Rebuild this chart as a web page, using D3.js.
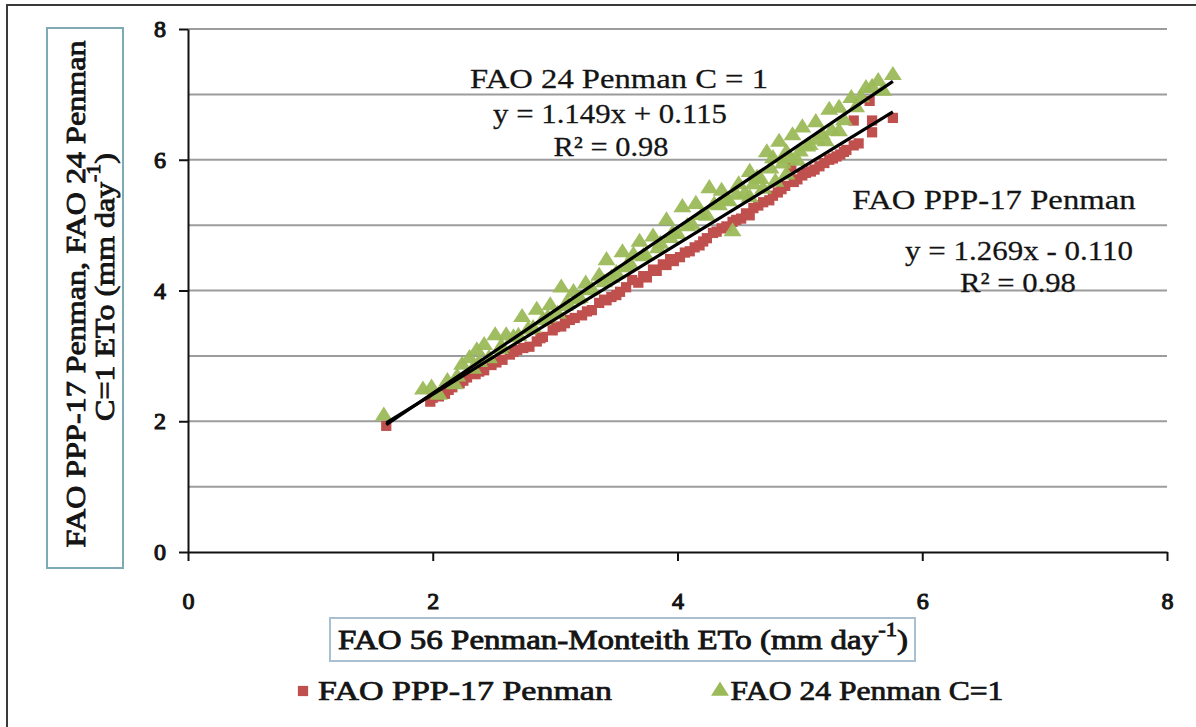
<!DOCTYPE html>
<html><head><meta charset="utf-8">
<script src="https://cdn.jsdelivr.net/npm/d3@7"></script>
<style>
body{margin:0;background:#fff}
svg{display:block}
text{font-family:"Liberation Serif",Tinos,"Times New Roman",Times,serif;fill:#141414}
</style>
</head><body>
<svg id="c" width="1196" height="727"></svg>
<script>
// ---------- DATA ----------
const xTickValues = [0, 2, 4, 6, 8];
const yTickValues = [0, 2, 4, 6, 8];
const yGridValues = [1, 2, 3, 4, 5, 6, 7, 8];
const seriesNames = ["FAO PPP-17 Penman", "FAO 24 Penman C=1"];

// FAO PPP-17 Penman (red squares)
const pppX = [1.62,1.98,2.05,2.10,2.16,2.22,2.28,2.35,2.42,2.48,2.57,2.63,2.69,2.79,2.85,2.90,2.98,3.05,3.12,3.22,3.30,3.36,3.42,3.50,3.53,3.63,3.68,3.75,3.83,3.91,3.97,4.02,4.10,4.18,4.24,4.29,4.36,4.45,4.52,4.59,4.66,4.75,4.82,4.88,4.93,4.98,5.05,5.12,5.20,5.27,5.33,5.38,5.44,5.44,5.57,5.59,5.59,5.76,
  2.00,2.13,2.25,2.38,2.52,2.66,2.74,2.88,3.00,3.08,3.16,3.26,3.40,3.46,3.58,3.72,3.80,3.88,3.94,4.06,4.14,4.21,4.32,4.40,4.48,4.56,4.62,4.70,4.78,4.85,4.95,5.02,5.09,5.16,5.24,5.30,5.36,5.48];
const pppY = [1.93,2.30,2.38,2.42,2.52,2.58,2.67,2.72,2.78,2.86,2.94,3.02,3.09,3.14,3.22,3.29,3.39,3.45,3.55,3.62,3.70,3.81,3.85,3.93,3.98,4.16,4.12,4.20,4.30,4.39,4.45,4.51,4.60,4.69,4.80,4.88,4.95,5.05,5.10,5.15,5.30,5.38,5.50,5.60,5.89,5.70,5.80,5.85,5.95,6.02,6.08,6.15,6.22,6.60,6.90,6.42,6.60,6.64,
  2.36,2.48,2.62,2.76,2.90,3.06,3.12,3.27,3.44,3.50,3.58,3.68,3.86,3.90,4.05,4.22,4.32,4.40,4.48,4.58,4.66,4.75,4.90,4.98,5.08,5.18,5.26,5.35,5.45,5.55,5.66,5.76,5.82,5.90,6.00,6.05,6.12,6.25];

// FAO 24 Penman C=1 (green triangles)
const fao24X = [1.60,1.92,1.99,2.05,2.12,2.18,2.24,2.30,2.33,2.36,2.42,2.46,2.51,2.56,2.60,2.66,2.73,2.78,2.85,2.90,2.96,3.02,3.05,3.10,3.15,3.20,3.25,3.30,3.36,3.42,3.46,3.55,3.58,3.64,3.69,3.74,3.80,3.86,3.91,3.96,4.04,4.08,4.15,4.20,4.26,4.30,4.36,4.40,4.45,4.50,4.55,4.59,4.59,4.65,4.70,4.73,4.78,4.80,4.83,4.89,4.89,4.94,4.98,5.02,5.08,5.13,5.18,5.24,5.21,5.32,5.32,5.42,5.54,5.59,5.76,
  2.20,2.38,2.55,2.70,2.82,2.94,3.08,3.18,3.28,3.40,3.50,3.62,3.72,3.84,3.94,4.00,4.12,4.24,4.34,4.42,4.48,4.62,4.68,4.76,4.86,4.92,5.00,5.06,5.14,5.26,5.36,5.46,5.50,5.64,5.68];
const fao24Y = [2.08,2.48,2.51,2.40,2.61,2.56,2.86,2.96,2.80,3.08,3.16,2.96,3.31,3.14,3.31,3.28,3.59,3.40,3.70,3.54,3.77,3.64,4.04,3.80,3.97,3.88,4.10,4.01,4.22,4.46,4.19,4.58,4.35,4.54,4.74,4.53,4.82,4.71,5.07,4.87,5.27,4.98,5.32,5.15,5.56,5.31,5.52,5.38,4.90,5.62,5.48,5.81,5.42,5.72,5.55,6.11,6.02,5.66,6.27,6.11,5.77,6.37,5.98,6.49,6.22,6.57,6.38,6.76,6.28,6.79,6.43,6.94,7.09,7.11,7.29,
  2.68,2.90,3.10,3.30,3.42,3.58,3.76,3.86,4.00,4.12,4.26,4.38,4.52,4.64,4.80,4.86,5.00,5.14,5.30,5.36,5.46,5.62,5.70,5.86,5.94,6.02,6.12,6.20,6.30,6.44,6.60,6.80,6.95,7.20,7.05];

// Linear fits shown in the chart
const fitSlope = [1.269, 1.149];
const fitIntercept = [-0.110, 0.115];
const fitXRange = [1.62, 5.76];

// Annotation texts
const annotTop = ["FAO 24 Penman C = 1", "y = 1.149x + 0.115", "R\u00B2 = 0.98"];
const annotRight = ["FAO PPP-17 Penman", "y = 1.269x - 0.110", "R\u00B2 = 0.98"];
const xTitle = ["FAO 56 Penman-Monteith ETo (mm day", "-1", ")"];
const yTitle1 = "FAO PPP-17 Penman, FAO 24 Penman";
const yTitle2 = ["C=1 ETo (mm day", "-1", ")"];

// ---------- DRAW ----------
const FONT = '"Liberation Serif", Tinos, "Times New Roman", Times, serif';
const INK = "#141414";
const svg = d3.select("#c");
const RED = "#C0504D", GREEN = "#9BBB59";

const x = d3.scaleLinear().domain([0, 8]).range([188, 1167]);
const y = d3.scaleLinear().domain([0, 8]).range([552, 29]);

// outer chart border
svg.append("rect").attr("x", 7).attr("y", 5).attr("width", 1230).attr("height", 760)
  .attr("fill", "none").attr("stroke", "#3a3a3a").attr("stroke-width", 2);

// gridlines
svg.append("g").selectAll("line").data(yGridValues).join("line")
  .attr("x1", x(0)).attr("x2", x(8))
  .attr("y1", d => y(d)).attr("y2", d => y(d))
  .attr("stroke", "#9c9c9c").attr("stroke-width", 2);

// axes
const xAxis = svg.append("g").attr("transform", `translate(0,${y(0)})`)
  .call(d3.axisBottom(x).tickValues(xTickValues).tickSize(9).tickSizeOuter(0).tickPadding(31).tickFormat(d3.format("d")));
const yAxis = svg.append("g").attr("transform", `translate(${x(0)},0)`)
  .call(d3.axisLeft(y).tickValues(yTickValues).tickSize(9).tickSizeOuter(0).tickPadding(13).tickFormat(d3.format("d")));
[xAxis, yAxis].forEach(a => {
  a.attr("font-family", null).attr("font-size", null);
  a.select(".domain").attr("stroke", "#111").attr("stroke-width", 2);
  a.selectAll(".tick line").attr("stroke", "#111").attr("stroke-width", 2);
  a.selectAll(".tick text").style("font-family", FONT).style("font-size", "24px")
    .style("font-weight", "normal").attr("fill", INK).attr("stroke", INK).attr("stroke-width", 1.1);
});

// data marks
const ppp = pppX.map((v, i) => [v, pppY[i]]);
const f24 = fao24X.map((v, i) => [v, fao24Y[i]]);
const sq = d3.symbol().type(d3.symbolSquare).size(105);
const tri = d3.symbol().type(d3.symbolTriangle).size(115);

svg.append("g").selectAll("path").data(ppp).join("path")
  .attr("d", sq).attr("transform", d => `translate(${x(d[0])},${y(d[1])})`)
  .attr("fill", RED);
svg.append("g").selectAll("path").data(f24).join("path")
  .attr("d", tri).attr("transform", d => `translate(${x(d[0])},${y(d[1])}) scale(1.1,1)`)
  .attr("fill", GREEN).attr("opacity", 0.95);

// fit lines
svg.append("g").selectAll("line").data(fitSlope).join("line")
  .attr("x1", x(fitXRange[0])).attr("x2", x(fitXRange[1]))
  .attr("y1", (d, i) => y(d * fitXRange[0] + fitIntercept[i]))
  .attr("y2", (d, i) => y(d * fitXRange[1] + fitIntercept[i]))
  .attr("stroke", "#000").attr("stroke-width", 3.2);

// helper: centred text stretched to a target width (heavy = faux bold)
function fitText(cx, cy, rot, width, size, heavy, parts, kPerp) {
  const g = svg.append("g").attr("transform", `translate(${cx},${cy}) rotate(${rot})`);
  const t = g.append("text").attr("text-anchor", "middle").attr("dominant-baseline", "central")
    .style("font-family", FONT).style("font-size", size + "px").style("font-weight", "normal")
    .attr("fill", INK);
  if (heavy) t.attr("stroke", INK).attr("stroke-width", heavy);
  if (typeof parts === "string") t.text(parts);
  else {
    t.append("tspan").text(parts[0]);
    t.append("tspan").style("font-size", (size * 0.68) + "px").attr("dy", -size * 0.38).text(parts[1]);
    t.append("tspan").attr("dy", size * 0.38).text(parts[2]);
  }
  const w = t.node().getBBox().width;
  t.attr("transform", `scale(${width / w},${kPerp || 1})`);
  return g;
}

// annotations
fitText(619, 79, 0, 298, 27, 0.25, annotTop[0], 1.05);
fitText(610, 113, 0, 234, 27, 0.25, annotTop[1], 1.05);
fitText(611, 146, 0, 115, 27, 0.25, annotTop[2], 1.05);
fitText(994, 200, 0, 284, 27, 0.25, annotRight[0], 1.05);
fitText(1019, 250, 0, 228, 27, 0.25, annotRight[1], 1.05);
fitText(1018, 282, 0, 116, 27, 0.25, annotRight[2], 1.05);

// axis title boxes
svg.append("rect").attr("x", 330).attr("y", 618).attr("width", 585).attr("height", 43)
  .attr("fill", "#fff").attr("stroke", "#a9bfd2").attr("stroke-width", 2);
fitText(623, 640, 0, 570, 26, 0.8, xTitle, 1.05);

svg.append("rect").attr("x", 47).attr("y", 28).attr("width", 76).attr("height", 540)
  .attr("fill", "#fff").attr("stroke", "#7fa9b3").attr("stroke-width", 2);
fitText(75, 294, -90, 508, 25, 0.8, yTitle1, 1.1);
fitText(104, 287, -90, 268, 25, 0.8, yTitle2, 1.1);

// legend
const legY = 691;
svg.append("path").attr("d", sq).attr("transform", `translate(303,${legY})`).attr("fill", RED);
svg.append("path").attr("d", tri).attr("transform", `translate(720,${legY}) scale(1.1,1)`).attr("fill", GREEN);
fitText(465, legY, 0, 294, 26, 0.7, seriesNames[0], 1.05);
fitText(867, legY, 0, 273, 26, 0.7, seriesNames[1], 1.05);
</script>
</body></html>
